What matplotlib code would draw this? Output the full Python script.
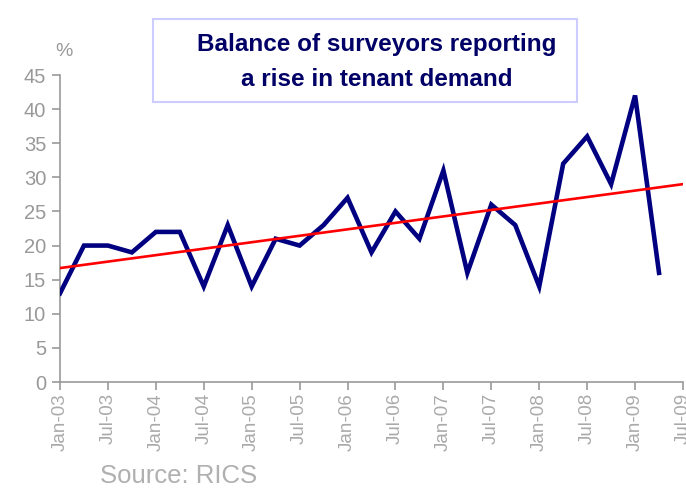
import numpy as np
import matplotlib
matplotlib.use("Agg")
import matplotlib.pyplot as plt
from matplotlib.patches import Rectangle

quarters = ["Jan-03", "Apr-03", "Jul-03", "Oct-03", "Jan-04", "Apr-04", "Jul-04", "Oct-04",
            "Jan-05", "Apr-05", "Jul-05", "Oct-05", "Jan-06", "Apr-06", "Jul-06", "Oct-06",
            "Jan-07", "Apr-07", "Jul-07", "Oct-07", "Jan-08", "Apr-08", "Jul-08", "Oct-08",
            "Jan-09", "Apr-09"]
balance = [13, 20, 20, 19, 22, 22, 14, 23, 14, 21, 20, 23, 27, 19, 25, 21,
           31, 16, 26, 23, 14, 32, 36, 29, 42, 16]
tick_labels = ["Jan-03", "Jul-03", "Jan-04", "Jul-04", "Jan-05", "Jul-05", "Jan-06",
               "Jul-06", "Jan-07", "Jul-07", "Jan-08", "Jul-08", "Jan-09", "Jul-09"]
y_ticks = [0, 5, 10, 15, 20, 25, 30, 35, 40, 45]

plt.rcParams['font.family'] = ['Liberation Sans', 'DejaVu Sans']
gray = '#999999'

fig = plt.figure(figsize=(6.86, 4.88), dpi=100)
ax = fig.add_axes([60/686, 1-382/488, (683-60)/686, (382-75)/488])

x = np.arange(len(balance))
ax.plot(x, balance, color='#000080', lw=3.3, solid_joinstyle='miter', zorder=3)

coef = np.polyfit(x, balance, 1)
xt = np.array([0, 2*(len(tick_labels)-1)])
ax.plot(xt, np.polyval(coef, xt), color='#ff0000', lw=1.9, zorder=4)

ax.set_xlim(0, 2*(len(tick_labels)-1))
ax.set_ylim(0, 45)
ax.set_xticks(np.arange(0, 2*len(tick_labels), 2))
ax.set_xticklabels(tick_labels, rotation=90)
ax.set_yticks(y_ticks)
for s in ['top', 'right']:
    ax.spines[s].set_visible(False)
for s in ['left', 'bottom']:
    ax.spines[s].set_color(gray)
    ax.spines[s].set_linewidth(1.2)
ax.tick_params(colors=gray, length=6, width=1.2, direction='out')
ax.tick_params(axis='y', labelcolor='#999999', labelsize=14.5, pad=4)
ax.tick_params(axis='x', labelcolor='#aaaaaa', labelsize=13.5, pad=2)

fig.text(55/686, 1-51/488, '%', color=gray, fontsize=14, ha='left', va='center')
fig.text(100/686, 1-483/488, 'Source: RICS', color='#b0b0b0', fontsize=18.5, ha='left', va='baseline')

box = Rectangle((153/686, 1-102/488), (577-153)/686, (102-19)/488, transform=fig.transFigure,
                facecolor='white', edgecolor='#ccccff', lw=1.5, zorder=5)
fig.patches.append(box)
fig.text(377/686, 1-51/488, 'Balance of surveyors reporting', color='#000066', fontsize=17.5,
         fontweight='bold', ha='center', va='baseline', zorder=6)
fig.text(377/686, 1-86/488, 'a rise in tenant demand', color='#000066', fontsize=17.5,
         fontweight='bold', ha='center', va='baseline', zorder=6)

fig.savefig('out.png', dpi=100)
